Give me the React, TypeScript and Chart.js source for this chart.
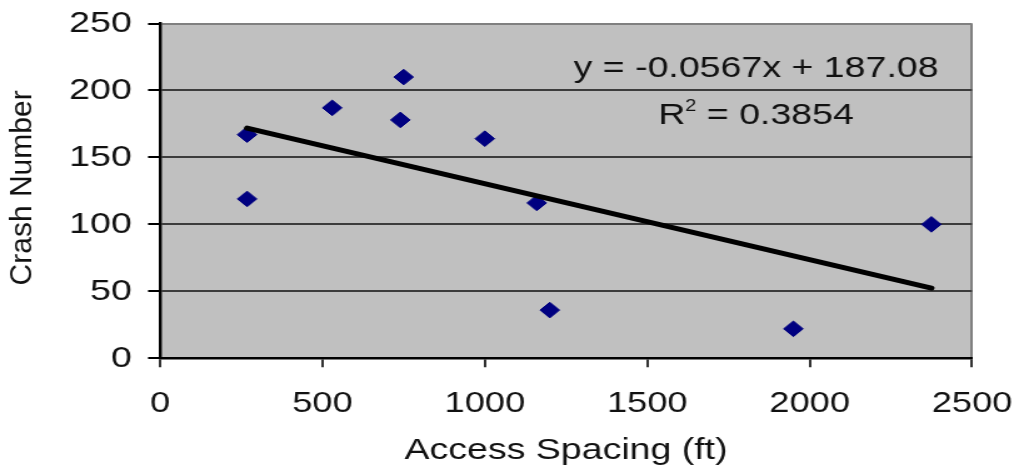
import React, { useEffect, useRef } from "react";
import { Chart, registerables } from "chart.js";

Chart.register(...registerables);

// ---- data ----
const accessSpacing = [268, 268, 530, 750, 740, 1000, 1160, 1200, 1950, 2375];
const crashNumber = [167, 119, 187, 210, 178, 164, 116, 36, 22, 100];
const trendSlope = -0.0567;
const trendIntercept = 187.08;
const xTicks = [0, 500, 1000, 1500, 2000, 2500];
const yTicks = [0, 50, 100, 150, 200, 250];
const xAxisTitle = "Access Spacing (ft)";
const yAxisTitle = "Crash Number";
const equationLabel = "y = -0.0567x + 187.08";
const r2Base = "R";
const r2Sup = "2";
const r2Value = " = 0.3854";

// ---- layout / style ----
const CANVAS_W = 815;
const CSS_W = 1019;
const H = 470;
const FONT = "'Liberation Sans', Arial, Helvetica, sans-serif";
const TEXT = "#111111";
const labelAnchorX = 1835; // x-value where the equation block is centred
const eqBaselineY = 209.7;
const r2BaselineY = 175.1;

export default function App() {
  const ref = useRef<HTMLCanvasElement | null>(null);

  useEffect(() => {
    if (!ref.current) return;
    const xMin = Math.min(...accessSpacing);
    const xMax = Math.max(...accessSpacing);
    const points = accessSpacing.map((x, i) => ({ x, y: crashNumber[i] }));
    const trend = [
      { x: xMin, y: trendIntercept + trendSlope * xMin },
      { x: xMax, y: trendIntercept + trendSlope * xMax },
    ];

    const bgPlugin = {
      id: "plotBg",
      beforeDraw(chart: any) {
        const { ctx, chartArea: a } = chart;
        ctx.save();
        ctx.fillStyle = "#c0c0c0";
        ctx.fillRect(a.left, a.top, a.right - a.left, a.bottom - a.top);
        ctx.restore();
      },
    };

    const textPlugin = {
      id: "texts",
      afterDraw(chart: any) {
        const { ctx, chartArea: a, scales } = chart;
        const cx = scales.x.getPixelForValue(labelAnchorX);
        const eqY = scales.y.getPixelForValue(eqBaselineY);
        const r2Y = scales.y.getPixelForValue(r2BaselineY);
        ctx.save();
        ctx.fillStyle = TEXT;
        ctx.textBaseline = "alphabetic";
        ctx.font = `30px ${FONT}`;
        ctx.textAlign = "center";
        ctx.fillText(equationLabel, cx, eqY);
        ctx.textAlign = "left";
        const wR = ctx.measureText(r2Base).width;
        const wRest = ctx.measureText(r2Value).width;
        ctx.font = `16px ${FONT}`;
        const wS = ctx.measureText(r2Sup).width;
        const total = wR + wS + wRest;
        const sx = cx - total / 2;
        ctx.font = `30px ${FONT}`;
        ctx.fillText(r2Base, sx, r2Y);
        ctx.font = `16px ${FONT}`;
        ctx.fillText(r2Sup, sx + wR, r2Y - 13.3);
        ctx.font = `30px ${FONT}`;
        ctx.fillText(r2Value, sx + wR + wS, r2Y);

        // rotated y title, compensated for horizontal stretch
        const cy = (a.top + a.bottom) / 2 - 3;
        ctx.translate(18.2, cy);
        ctx.rotate(-Math.PI / 2);
        ctx.scale(1, CANVAS_W / CSS_W);
        ctx.textAlign = "center";
        ctx.textBaseline = "middle";
        ctx.font = `30px ${FONT}`;
        ctx.fillText(yAxisTitle, 0, 0);
        ctx.restore();
      },
    };

    const chart = new Chart(ref.current, {
      type: "scatter",
      data: {
        datasets: [
          {
            label: "trend",
            data: trend,
            showLine: true,
            pointRadius: 0,
            borderColor: "#000000",
            borderWidth: 5,
            borderCapStyle: "round",
            fill: false,
            order: 0,
          } as any,
          {
            label: "Crash Number",
            data: points,
            pointStyle: "rectRot",
            pointRadius: 7.8,
            pointBorderWidth: 1,
            pointBackgroundColor: "#000080",
            pointBorderColor: "#000080",
            showLine: false,
            order: 1,
          } as any,
        ],
      },
      options: {
        animation: false,
        responsive: false,
        maintainAspectRatio: false,
        devicePixelRatio: 1,
        events: [],
        layout: { padding: { left: 0, top: 23.5, right: CANVAS_W - 777.4, bottom: 0 } },
        plugins: {
          legend: { display: false },
          tooltip: { enabled: false },
        },
        scales: {
          x: {
            type: "linear",
            position: "bottom",
            min: xTicks[0],
            max: xTicks[xTicks.length - 1],
            afterBuildTicks: (s: any) => {
              s.ticks = xTicks.map((v) => ({ value: v }));
            },
            afterFit: (s: any) => {
              s.height = 111.7;
              s.paddingLeft = 0;
              s.paddingRight = 0;
              s.paddingTop = 0;
              s.paddingBottom = 0;
            },
            grid: {
              color: (c: any) =>
                c.tick && c.tick.value === xTicks[xTicks.length - 1] ? "#808080" : "rgba(0,0,0,0)",
              lineWidth: 2,
              drawTicks: true,
              tickLength: 9,
              tickColor: "#000000",
              tickWidth: 1.6,
            },
            border: { display: true, color: "#000000", width: 2.5 },
            ticks: {
              font: { family: FONT, size: 29 },
              color: TEXT,
              padding: 19,
              maxRotation: 0,
              autoSkip: false,
              callback: (v: any) => String(v),
            },
            title: {
              display: true,
              text: xAxisTitle,
              font: { family: FONT, size: 30 },
              color: TEXT,
              padding: { top: 0, bottom: 1 },
            },
          },
          y: {
            type: "linear",
            min: yTicks[0],
            max: yTicks[yTicks.length - 1],
            afterBuildTicks: (s: any) => {
              s.ticks = yTicks.map((v) => ({ value: v }));
            },
            afterFit: (s: any) => {
              s.width = 128;
              s.paddingLeft = 0;
              s.paddingRight = 0;
              s.paddingTop = 0;
              s.paddingBottom = 0;
            },
            grid: {
              color: (c: any) => {
                if (!c.tick) return "#3c3c3c";
                if (c.tick.value === yTicks[yTicks.length - 1]) return "#808080";
                if (c.tick.value === yTicks[0]) return "rgba(0,0,0,0)";
                return "#3c3c3c";
              },
              lineWidth: 2,
              drawTicks: true,
              tickLength: 9.6,
              tickColor: "#000000",
              tickWidth: 2,
            },
            border: { display: true, color: "#000000", width: 2.4 },
            ticks: {
              font: { family: FONT, size: 30 },
              color: TEXT,
              padding: 13,
              callback: (v: any) => String(v),
            },
            title: { display: false },
          },
        },
      } as any,
      plugins: [bgPlugin, textPlugin],
    });

    return () => chart.destroy();
  }, []);

  return (
    <div style={{ position: "absolute", left: 0, top: 0, width: CSS_W, height: H, background: "#ffffff" }}>
      <canvas
        ref={ref}
        width={CANVAS_W}
        height={H}
        style={{ width: `${CSS_W}px`, height: `${H}px`, display: "block" }}
      />
    </div>
  );
}
